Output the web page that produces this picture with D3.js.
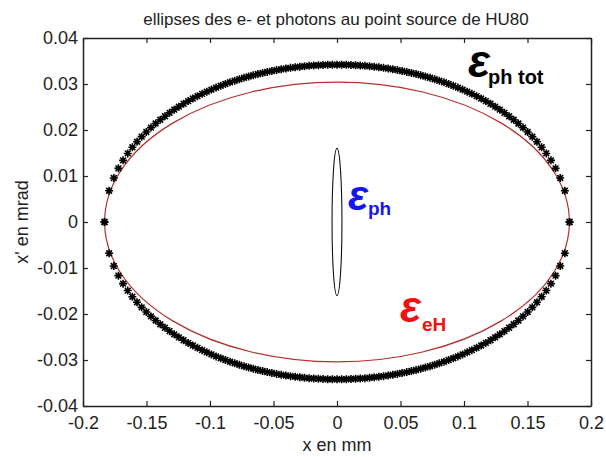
<!DOCTYPE html>
<html>
<head>
<meta charset="utf-8">
<script src="https://cdn.jsdelivr.net/npm/d3@7"></script>
<style>
  body { margin: 0; background: #fff; }
  text { font-family: "Liberation Sans", Arial, sans-serif; }
</style>
</head>
<body>
<svg id="chart" width="606" height="457"></svg>
<script>
// Axis ticks
const xTickValues = [-0.2, -0.15, -0.1, -0.05, 0, 0.05, 0.1, 0.15, 0.2];
const xTickLabels = ["-0.2", "-0.15", "-0.1", "-0.05", "0", "0.05", "0.1", "0.15", "0.2"];
const yTickValues = [-0.04, -0.03, -0.02, -0.01, 0, 0.01, 0.02, 0.03, 0.04];
const yTickLabels = ["-0.04", "-0.03", "-0.02", "-0.01", "0", "0.01", "0.02", "0.03", "0.04"];

// Emittance ellipses: semi-axes in x (mm) and x' (mrad)
const ellipseNames = ["ph tot", "eH", "ph"];
const ellipseSemiX = [0.1831, 0.1830, 0.0039];
const ellipseSemiY = [0.0342, 0.0304, 0.0160];
const totalMarkerCount = 101; // samples per half of the total photon ellipse

const margin = { left: 83, right: 15, top: 38, bottom: 51 };
const W = 606, H = 457;
const svg = d3.select("#chart");

const x = d3.scaleLinear().domain([-0.2, 0.2]).range([margin.left, W - margin.right]);
const y = d3.scaleLinear().domain([-0.04, 0.04]).range([H - margin.bottom, margin.top]);

svg.append("rect").attr("width", W).attr("height", H).attr("fill", "#fff");

// Title and axis labels
svg.append("text")
  .attr("x", 336).attr("y", 25)
  .attr("text-anchor", "middle")
  .attr("font-size", 17).attr("fill", "#222")
  .text("ellipses des e- et photons au point source de HU80");

svg.append("text")
  .attr("x", 337).attr("y", 451)
  .attr("text-anchor", "middle")
  .attr("font-size", 18).attr("fill", "#222")
  .text("x en mm");

svg.append("text")
  .attr("transform", "translate(28,222) rotate(-90)")
  .attr("text-anchor", "middle")
  .attr("font-size", 18).attr("fill", "#222")
  .text("x' en mrad");

// Axes with inward ticks on all four sides
const tickLen = 5;
const fmtX = (d) => xTickLabels[xTickValues.indexOf(d)];
const fmtY = (d) => yTickLabels[yTickValues.indexOf(d)];

const gB = svg.append("g").attr("transform", `translate(0,${y(-0.04)})`)
  .call(d3.axisBottom(x).tickValues(xTickValues).tickFormat(fmtX).tickSizeInner(-tickLen).tickSizeOuter(0).tickPadding(10));
const gT = svg.append("g").attr("transform", `translate(0,${y(0.04)})`)
  .call(d3.axisTop(x).tickValues(xTickValues).tickFormat("").tickSizeInner(-tickLen).tickSizeOuter(0));
const gL = svg.append("g").attr("transform", `translate(${x(-0.2)},0)`)
  .call(d3.axisLeft(y).tickValues(yTickValues).tickFormat(fmtY).tickSizeInner(-tickLen).tickSizeOuter(0).tickPadding(5));
const gR = svg.append("g").attr("transform", `translate(${x(0.2)},0)`)
  .call(d3.axisRight(y).tickValues(yTickValues).tickFormat("").tickSizeInner(-tickLen).tickSizeOuter(0));

[gB, gT, gL, gR].forEach(g => {
  g.select(".domain").attr("stroke", "#222").attr("stroke-width", 1.5);
  g.selectAll(".tick line").attr("stroke", "#222").attr("stroke-width", 1.2);
  g.selectAll(".tick text").attr("font-size", 18).attr("fill", "#222")
    .attr("font-family", "'Liberation Sans', Arial, sans-serif");
});

const plot = svg.append("g");

// Electron emittance ellipse (red)
plot.append("ellipse")
  .attr("cx", x(0)).attr("cy", y(0))
  .attr("rx", x(ellipseSemiX[1]) - x(0))
  .attr("ry", y(0) - y(ellipseSemiY[1]))
  .attr("fill", "none").attr("stroke", "#b3302c").attr("stroke-width", 1.2);

// Single-photon emittance ellipse (black, narrow)
plot.append("ellipse")
  .attr("cx", x(0)).attr("cy", y(0))
  .attr("rx", x(ellipseSemiX[2]) - x(0))
  .attr("ry", y(0) - y(ellipseSemiY[2]))
  .attr("fill", "none").attr("stroke", "#111").attr("stroke-width", 1.1);

// Total photon emittance: asterisk markers sampled evenly in x over both halves
const a = ellipseSemiX[0], b = ellipseSemiY[0];
const xs = d3.range(totalMarkerCount).map(i => -a + (2 * a * i) / (totalMarkerCount - 1));
const totalPoints = [];
xs.forEach(v => {
  const h = b * Math.sqrt(Math.max(0, 1 - (v * v) / (a * a)));
  totalPoints.push([v, h]);
  totalPoints.push([v, -h]);
});
const r = 4, rd = r * 0.72;
const starPath = `M${-r},0L${r},0M0,${-r}L0,${r}M${-rd},${-rd}L${rd},${rd}M${-rd},${rd}L${rd},${-rd}`;
plot.selectAll("path.star").data(totalPoints).join("path")
  .attr("class", "star")
  .attr("transform", d => `translate(${x(d[0])},${y(d[1])})`)
  .attr("d", starPath)
  .attr("fill", "none").attr("stroke", "#000").attr("stroke-width", 1.6);

// Annotations
function label(xPos, yPos, sub, color, epsSize, subSize, subDx, subDy) {
  const g = svg.append("g").attr("fill", color);
  g.append("text")
    .attr("x", xPos).attr("y", yPos)
    .attr("font-family", "'Liberation Serif', 'Times New Roman', serif")
    .attr("font-style", "italic").attr("font-weight", "bold")
    .attr("font-size", epsSize)
    .text("\u03B5");
  g.append("text")
    .attr("x", xPos + subDx).attr("y", yPos + subDy)
    .attr("font-weight", "bold").attr("font-size", subSize)
    .text(sub);
}
label(468, 77, ellipseNames[0], "#000", 46, 20, 20, 7);
label(348, 210, ellipseNames[2], "#1515f0", 42, 19, 20, 5);
label(400, 322, ellipseNames[1], "#f01010", 44, 19, 22, 9);
</script>
</body>
</html>
